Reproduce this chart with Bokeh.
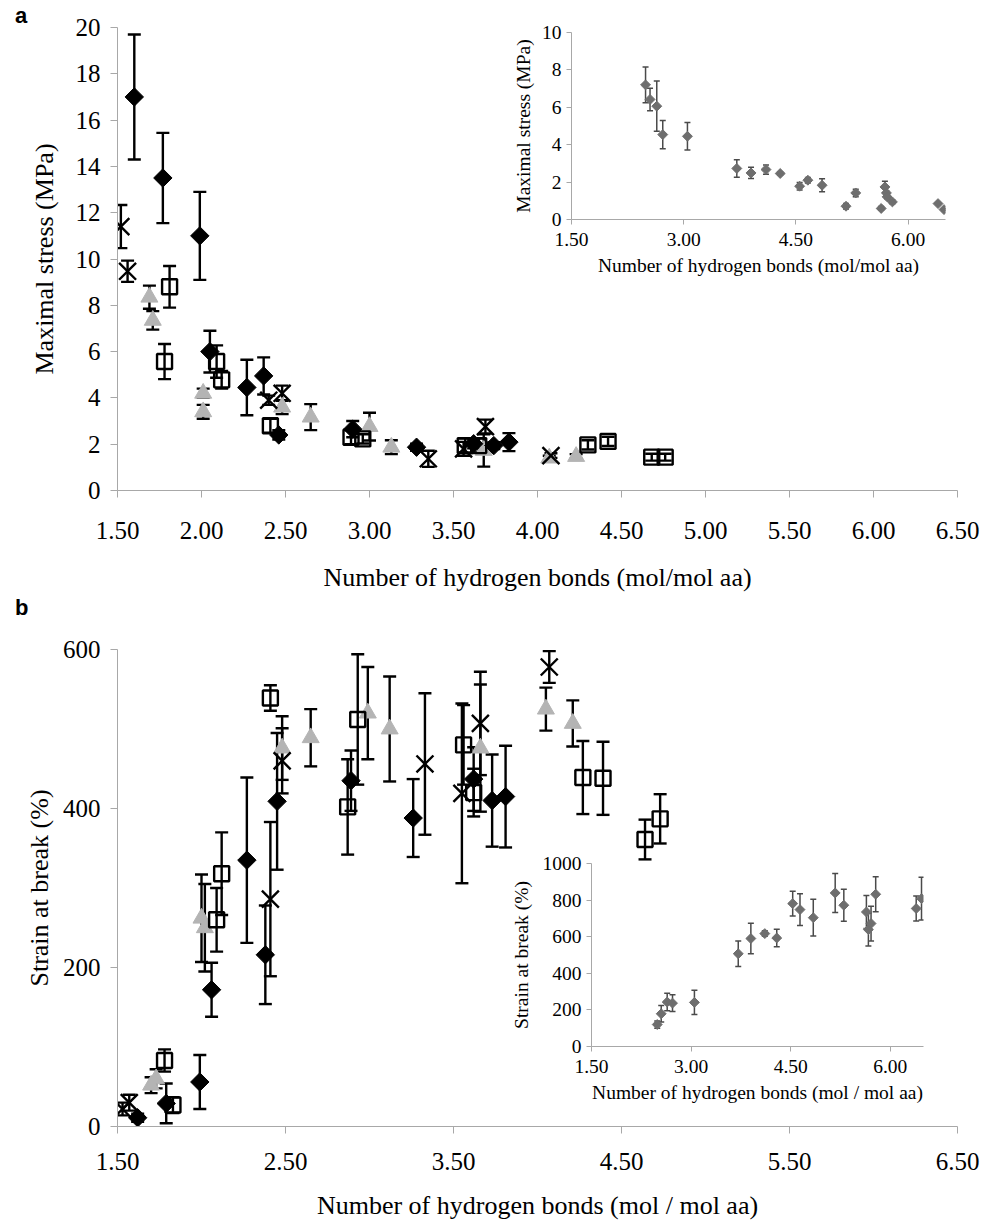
import numpy as np
from bokeh.plotting import figure
from bokeh.layouts import column
from bokeh.models import Range1d, FixedTicker, PrintfTickFormatter, Div
from bokeh.embed import file_html
from bokeh.resources import INLINE

# ---------------- Panel a: maximal stress (MPa) ----------------
a_dia_x = [1.60, 1.77, 1.99, 2.05, 2.27, 2.37, 2.46, 2.90, 3.28, 3.62, 3.74, 3.83]
a_dia_y = [17.0, 13.5, 11.0, 6.0, 4.45, 4.95, 2.4, 2.65, 1.87, 2.02, 1.94, 2.09]
a_dia_e = [2.7, 1.95, 1.9, 0.9, 1.2, 0.8, 0.2, 0.35, 0.15, 0.2, 0.15, 0.39]

a_sq_x = [1.78, 1.81, 2.09, 2.12, 2.41, 2.89, 2.96, 3.57, 3.65, 4.30, 4.42, 4.68, 4.76]
a_sq_y = [5.57, 8.8, 5.57, 4.78, 2.8, 2.3, 2.23, 1.94, 1.94, 1.97, 2.12, 1.44, 1.44]
a_sq_e = [0.76, 0.9, 0.7, 0.38, 0.3, 0.3, 0.2, 0.3, 0.3, 0.2, 0.2, 0.15, 0.15]

a_tri_x = [1.69, 1.71, 2.01, 2.01, 2.48, 2.65, 3.00, 3.13, 3.68, 4.07, 4.23]
a_tri_y = [8.35, 7.35, 4.2, 3.4, 3.6, 3.17, 2.76, 1.87, 1.73, 1.4, 1.47]
a_tri_e = [0.5, 0.4, 0.2, 0.3, 0.3, 0.56, 0.6, 0.3, 0.7, 0.1, 0.1]

a_x_x = [1.52, 1.56, 2.40, 2.48, 3.35, 3.56, 3.69, 4.08]
a_x_y = [11.4, 9.47, 3.9, 4.2, 1.37, 1.8, 2.76, 1.51]
a_x_e = [0.93, 0.46, 0.2, 0.33, 0.35, 0.3, 0.3, 0.1]

a_xticks = [1.5, 2.0, 2.5, 3.0, 3.5, 4.0, 4.5, 5.0, 5.5, 6.0, 6.5]
a_yticks = [0, 2, 4, 6, 8, 10, 12, 14, 16, 18, 20]

# inset of panel a
ia_x = [2.49, 2.55, 2.64, 2.72, 3.05, 3.71, 3.90, 4.10, 4.29, 4.55, 4.66, 4.85, 5.17, 5.30, 5.64, 5.69, 5.71, 5.72, 5.79, 6.40, 6.48]
ia_y = [7.2, 6.42, 6.06, 4.54, 4.45, 2.73, 2.49, 2.67, 2.46, 1.78, 2.1, 1.83, 0.71, 1.42, 0.59, 1.74, 1.42, 1.21, 0.94, 0.85, 0.53]
ia_e = [0.95, 0.6, 1.34, 0.75, 0.74, 0.47, 0.3, 0.25, 0.08, 0.2, 0.15, 0.35, 0.15, 0.2, 0.1, 0.3, 0.1, 0.1, 0.1, 0.05, 0.05]
ia_xticks = [1.5, 3.0, 4.5, 6.0]
ia_yticks = [0, 2, 4, 6, 8, 10]

# ---------------- Panel b: strain at break (%) ----------------
b_dia_x = [1.62, 1.79, 1.99, 2.06, 2.27, 2.38, 2.45, 2.89, 3.26, 3.62, 3.73, 3.81]
b_dia_y = [11, 29, 56, 172, 335, 216, 409, 435, 388, 437, 410, 415]
b_dia_e = [5, 25, 34, 34, 104, 62, 86, 38, 49, 40, 58, 64]

b_sq_x = [1.78, 1.83, 2.09, 2.12, 2.41, 2.87, 2.93, 3.56, 3.62, 4.27, 4.39, 4.64, 4.73]
b_sq_y = [83, 27, 260, 318, 539, 402, 512, 480, 420, 439, 438, 361, 387]
b_sq_e = [14, 10, 40, 52, 16, 60, 82, 50, 30, 46, 46, 25, 31]

b_tri_x = [1.70, 1.73, 2.00, 2.02, 2.48, 2.65, 2.99, 3.12, 3.66, 4.05, 4.21]
b_tri_y = [52, 60, 262, 250, 476, 489, 520, 500, 476, 525, 507]
b_tri_e = [10, 12, 55, 55, 40, 36, 58, 66, 80, 27, 29]

b_x_x = [1.53, 1.57, 2.41, 2.48, 3.33, 3.55, 3.66, 4.07]
b_x_y = [22, 30, 286, 460, 456, 419, 507, 578]
b_x_e = [8, 10, 97, 41, 89, 113, 65, 20]

b_xticks = [1.5, 2.5, 3.5, 4.5, 5.5, 6.5]
b_yticks = [0, 200, 400, 600]

# inset of panel b
ib_x = [2.49, 2.55, 2.64, 2.72, 3.05, 3.71, 3.90, 4.11, 4.29, 4.53, 4.64, 4.84, 5.17, 5.30, 5.64, 5.67, 5.71, 5.78, 6.39, 6.47]
ib_y = [120, 179, 243, 237, 241, 507, 590, 617, 593, 781, 748, 704, 839, 772, 735, 639, 672, 832, 754, 808]
ib_e = [20, 45, 48, 46, 66, 70, 83, 15, 48, 68, 87, 100, 107, 87, 90, 90, 95, 96, 68, 117]
ib_xticks = [1.5, 3.0, 4.5, 6.0]
ib_yticks = [0, 200, 400, 600, 800, 1000]

SERIF = "Liberation Serif"
AX = "#a8a8a8"


def no_align(p):
    if "frame_align" in p.properties():
        p.frame_align = False


def style_axes(p, xticks, yticks, fs, xfmt, tick_out, x_std, y_std, x_lab_std, y_lab_std):
    p.outline_line_color = None
    p.grid.visible = False
    p.xaxis.ticker = FixedTicker(ticks=xticks)
    p.yaxis.ticker = FixedTicker(ticks=yticks)
    p.xaxis.formatter = PrintfTickFormatter(format=xfmt)
    for ax in (p.xaxis, p.yaxis):
        ax.axis_line_color = AX
        ax.major_tick_line_color = AX
        ax.major_tick_out = tick_out
        ax.major_tick_in = 0
        ax.minor_tick_out = 0
        ax.minor_tick_in = 0
        ax.major_label_text_font = SERIF
        ax.major_label_text_font_size = fs
        ax.major_label_text_color = "black"
        ax.axis_label_text_font = SERIF
        ax.axis_label_text_font_size = fs
        ax.axis_label_text_font_style = "normal"
        ax.axis_label_text_color = "black"
    p.xaxis.major_label_standoff = x_std
    p.yaxis.major_label_standoff = y_std
    p.xaxis.axis_label_standoff = x_lab_std
    p.yaxis.axis_label_standoff = y_lab_std


def errbars(p, x, y, e, cap, lw, color):
    lo = [yy - ee for yy, ee in zip(y, e)]
    hi = [yy + ee for yy, ee in zip(y, e)]
    p.segment(x0=x, y0=lo, x1=x, y1=hi, line_color=color, line_width=lw)
    p.scatter(x=x + x, y=lo + hi, marker="dash", size=cap, line_color=color, line_width=lw)


def main_series(p, dx, dy, de, sx, sy, se, tx, ty, te, xx, xy, xe):
    for (x, y, e) in ((dx, dy, de), (sx, sy, se), (tx, ty, te), (xx, xy, xe)):
        errbars(p, x, y, e, 13, 2.4, "black")
    p.scatter(x=tx, y=ty, marker="triangle", size=17, fill_color="#b4b4b4", line_color="#b4b4b4")
    p.scatter(x=sx, y=sy, marker="square", size=15, fill_color=None, line_color="black", line_width=2.4)
    p.scatter(x=dx, y=dy, marker="square", angle=np.pi / 4, size=13, fill_color="black", line_color="black")
    p.scatter(x=xx, y=xy, marker="x", size=24, line_color="black", line_width=2.4)


# ---- figure a ----
pa = figure(width=982, height=600, x_range=Range1d(1.5, 6.5), y_range=Range1d(0, 20),
            output_backend="svg", toolbar_location=None,
            min_border_left=117, min_border_right=25, min_border_top=27, min_border_bottom=110)
no_align(pa)
style_axes(pa, a_xticks, a_yticks, "25px", "%.2f", 7, 24, 10, 21, 14)
pa.xaxis.axis_label = "Number of hydrogen bonds (mol/mol aa)"
pa.yaxis.axis_label = "Maximal stress (MPa)"
pa.xaxis.axis_label_text_font_size = "26px"
pa.yaxis.axis_label_text_font_size = "26px"
main_series(pa, a_dia_x, a_dia_y, a_dia_e, a_sq_x, a_sq_y, a_sq_e,
            a_tri_x, a_tri_y, a_tri_e, a_x_x, a_x_y, a_x_e)

# ---- figure b ----
pb = figure(width=982, height=622, x_range=Range1d(1.5, 6.5), y_range=Range1d(0, 600),
            output_backend="svg", toolbar_location=None,
            min_border_left=117, min_border_right=25, min_border_top=49, min_border_bottom=96)
no_align(pb)
style_axes(pb, b_xticks, b_yticks, "25px", "%.2f", 7, 19, 10, 18, 6)
pb.xaxis.axis_label = "Number of hydrogen bonds (mol / mol aa)"
pb.yaxis.axis_label = "Strain at break (%)"
pb.xaxis.axis_label_text_font_size = "26px"
pb.yaxis.axis_label_text_font_size = "26px"
main_series(pb, b_dia_x, b_dia_y, b_dia_e, b_sq_x, b_sq_y, b_sq_e,
            b_tri_x, b_tri_y, b_tri_e, b_x_x, b_x_y, b_x_e)


def inset(width, height, yr, bl, br, bt, bb, x, y, e, xticks, yticks, xlab, ylab, ylab_std):
    p = figure(width=width, height=height, x_range=Range1d(1.5, 6.5), y_range=Range1d(*yr),
               output_backend="svg", toolbar_location=None,
               min_border_left=bl, min_border_right=br, min_border_top=bt, min_border_bottom=bb)
    no_align(p)
    p.background_fill_alpha = 0
    p.border_fill_alpha = 0
    style_axes(p, xticks, yticks, "19.5px", "%.2f", 5, 8, 5, 6, ylab_std)
    p.xaxis.axis_label = xlab
    p.yaxis.axis_label = ylab
    errbars(p, x, y, e, 6, 1.5, "#4a4a4a")
    p.scatter(x=x, y=y, marker="square", angle=np.pi / 4, size=7, fill_color="#6e6e6e", line_color="#6e6e6e")
    return p


ia = inset(460, 286, (0, 10), 71, 15, 18, 81, ia_x, ia_y, ia_e, ia_xticks, ia_yticks,
           "Number of hydrogen bonds (mol/mol aa)", "Maximal stress (MPa)", 5)
ib = inset(460, 270, (0, 1000), 91, 37, 18, 69, ib_x, ib_y, ib_e, ib_xticks, ib_yticks,
           "Number of hydrogen bonds (mol / mol aa)", "Strain at break (%)", 8)

ia.styles = {"position": "absolute", "left": "500px", "top": "14px"}
ib.styles = {"position": "absolute", "left": "500px", "top": "845px"}

lab_style = {"position": "absolute", "font-family": "Liberation Sans", "font-weight": "bold",
             "font-size": "22px", "color": "black", "line-height": "22px"}
lab_a = Div(text="a", width=20, height=24, styles=dict(lab_style, left="10px", top="0px"))
lab_b = Div(text="b", width=20, height=24, styles=dict(lab_style, left="10px", top="592px"))

root = column(pa, pb)

open("out.html", "w").write(file_html([root, ia, ib, lab_a, lab_b], INLINE))
